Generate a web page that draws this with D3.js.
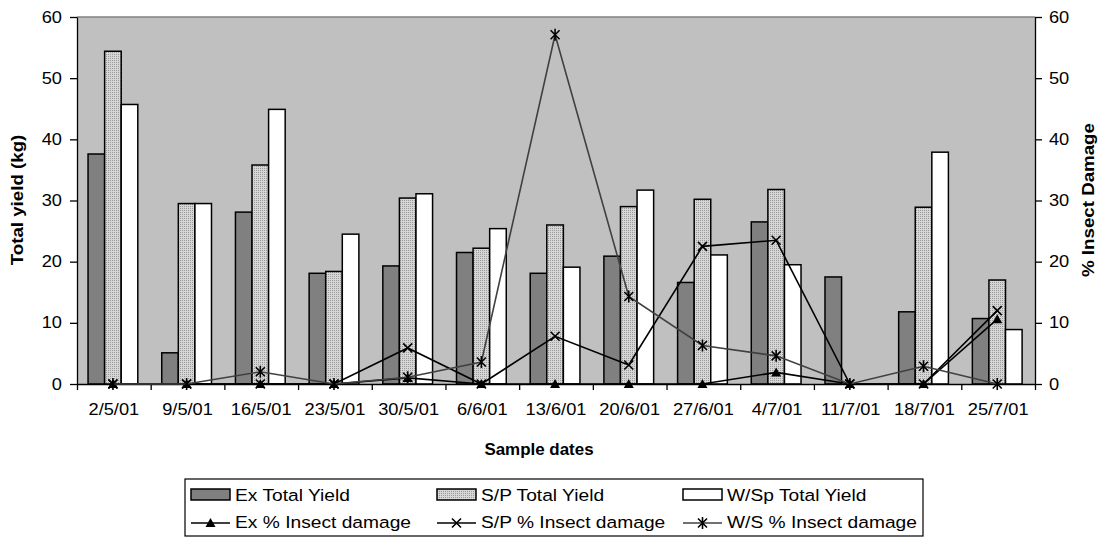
<!DOCTYPE html>
<html>
<head>
<meta charset="utf-8">
<script src="https://cdn.jsdelivr.net/npm/d3@7"></script>
<style>
body { margin: 0; background: #fff; }
text { font-family: "Liberation Sans", Arial, sans-serif; fill: #000; }
</style>
</head>
<body>
<svg width="1113" height="538"></svg>
<script>
// data
var dates = ['2/5/01', '9/5/01', '16/5/01', '23/5/01', '30/5/01', '6/6/01', '13/6/01',
             '20/6/01', '27/6/01', '4/7/01', '11/7/01', '18/7/01', '25/7/01'];
var exYield  = [37.6, 5.1, 28.1, 18.1, 19.3, 21.5, 18.1, 20.9, 16.6, 26.5, 17.5, 11.8, 10.7];
var spYield  = [54.4, 29.5, 35.8, 18.4, 30.4, 22.2, 26.0, 29.0, 30.2, 31.8, 0, 28.9, 17.0];
var wspYield = [45.7, 29.5, 44.9, 24.5, 31.1, 25.4, 19.1, 31.7, 21.1, 19.5, 0, 37.9, 8.9];
var exDamage = [0, 0, 0, 0, 1.0, 0, 0, 0, 0, 1.9, 0, 0, 10.6];
var spDamage = [0, 0, 0, 0, 5.9, 0, 7.8, 3.1, 22.5, 23.5, 0, 0, 12.0];
var wsDamage = [0, 0, 2.0, 0, 1.1, 3.6, 57.1, 14.3, 6.3, 4.6, 0, 2.9, 0];
var yTicks = [0, 10, 20, 30, 40, 50, 60];
var barNames = ['Ex Total Yield', 'S/P Total Yield', 'W/Sp Total Yield'];
var lineNames = ['Ex % Insect damage', 'S/P % Insect damage', 'W/S % Insect damage'];

var svg = d3.select('svg');
var plot = {l: 77, r: 1035, t: 17, b: 384};
var SX = 1.14; // text in the picture is wider than Arial

var barSeries = [
    {key: barNames[0], values: exYield, fill: '#808080'},
    {key: barNames[1], values: spYield, fill: 'url(#dots)'},
    {key: barNames[2], values: wspYield, fill: '#ffffff'}
];
var lineSeries = [
    {key: lineNames[0], values: exDamage, color: '#000', marker: 'triangle'},
    {key: lineNames[1], values: spDamage, color: '#000', marker: 'cross'},
    {key: lineNames[2], values: wsDamage, color: '#404040', marker: 'star'}
];

// dotted fill for S/P bars
var pat = svg.append('defs').append('pattern')
    .attr('id', 'dots').attr('patternUnits', 'userSpaceOnUse')
    .attr('width', 2).attr('height', 2);
pat.append('rect').attr('width', 2).attr('height', 2).attr('fill', '#d6d6d6');
pat.append('rect').attr('width', 1).attr('height', 1).attr('fill', '#9a9a9a');

var x0 = d3.scaleBand().domain(dates).range([plot.l, plot.r]);
var x1 = d3.scaleBand().domain(barNames)
    .range([x0.bandwidth() * 0.15, x0.bandwidth() * 0.825]);
var yL = d3.scaleLinear().domain([0, 60]).range([plot.b, plot.t]);
var yR = d3.scaleLinear().domain([0, 60]).range([plot.b, plot.t]);

// plot background
svg.append('rect')
    .attr('x', plot.l).attr('y', plot.t)
    .attr('width', plot.r - plot.l).attr('height', plot.b - plot.t)
    .attr('fill', '#c0c0c0');
svg.append('line')
    .attr('x1', plot.l).attr('x2', plot.r).attr('y1', plot.t).attr('y2', plot.t)
    .attr('stroke', '#808080').attr('stroke-width', 1.5);

// bars
var groups = svg.selectAll('.series')
    .data(barSeries)
    .enter().append('g')
    .attr('class', 'series');

groups.selectAll('rect')
    .data(function(s) {
        return s.values.map(function(v, i) { return {key: s.key, date: dates[i], value: v, fill: s.fill}; })
            .filter(function(d) { return d.value > 0; });
    })
    .enter().append('rect')
    .attr('x', function(d) { return x0(d.date) + x1(d.key); })
    .attr('y', function(d) { return yL(d.value); })
    .attr('width', x1.bandwidth())
    .attr('height', function(d) { return yL(0) - yL(d.value); })
    .attr('fill', function(d) { return d.fill; })
    .attr('stroke', '#000')
    .attr('stroke-width', 1.5);

// axes
var leftAxis = svg.append('g')
    .attr('transform', 'translate(' + plot.l + ',0)')
    .call(d3.axisLeft(yL).tickValues(yTicks).tickSize(7).tickSizeOuter(0));
leftAxis.selectAll('text').attr('x', -15 / SX);

var rightAxis = svg.append('g')
    .attr('transform', 'translate(' + plot.r + ',0)')
    .call(d3.axisRight(yR).tickValues(yTicks).tickSize(7).tickSizeOuter(0));
rightAxis.selectAll('text').attr('x', 14 / SX);

var bottomAxis = svg.append('g')
    .attr('transform', 'translate(0,' + plot.b + ')')
    .call(d3.axisBottom(x0).tickSize(0).tickPadding(20));
bottomAxis.select('.domain').remove();

// tick marks between the dates
var xEdge = d3.scaleLinear().domain([0, dates.length]).range([plot.l, plot.r]);
svg.append('g')
    .attr('transform', 'translate(0,' + plot.b + ')')
    .call(d3.axisBottom(xEdge).ticks(dates.length).tickFormat('').tickSize(6).tickSizeOuter(0));

svg.selectAll('.tick text')
    .style('font-size', '16px')
    .style('font-family', '"Liberation Sans", Arial, sans-serif')
    .attr('transform', 'scale(' + SX + ',1)');
svg.selectAll('.domain, .tick line').attr('stroke', '#000').attr('stroke-width', 1.3);

// insect damage lines
function markerPath(type) {
    if (type === 'triangle') return 'M0,-5L5,4L-5,4Z';
    if (type === 'cross') return 'M-4.5,-4.5L4.5,4.5M-4.5,4.5L4.5,-4.5';
    return 'M-4.5,-4.5L4.5,4.5M-4.5,4.5L4.5,-4.5M0,-6L0,6';
}

var xMid = function(i) { return x0(dates[i]) + x1(barNames[1]) + x1.bandwidth() / 2; };
var line = d3.line()
    .x(function(d, i) { return xMid(i); })
    .y(function(d) { return yR(d); });

var lg = svg.selectAll('.dmg')
    .data(lineSeries)
    .enter().append('g')
    .attr('class', 'dmg');

lg.append('path')
    .attr('d', function(s) { return line(s.values); })
    .attr('fill', 'none')
    .attr('stroke', function(s) { return s.color; })
    .attr('stroke-width', 1.6);

lg.selectAll('.mk')
    .data(function(s) { return s.values.map(function(v, i) { return {v: v, i: i, m: s.marker}; }); })
    .enter().append('path')
    .attr('class', 'mk')
    .attr('transform', function(d) { return 'translate(' + xMid(d.i) + ',' + yR(d.v) + ')'; })
    .attr('d', function(d) { return markerPath(d.m); })
    .attr('fill', '#000')
    .attr('stroke', '#000')
    .attr('stroke-width', function(d) { return d.m === 'triangle' ? 0 : 1.6; });

// axis titles
svg.append('text')
    .attr('transform', 'translate(23,200) rotate(-90) scale(1.17,1)')
    .attr('text-anchor', 'middle')
    .style('font-size', '16px').style('font-weight', 'bold')
    .text('Total yield (kg)');
svg.append('text')
    .attr('transform', 'translate(1094,200) rotate(-90) scale(1.17,1)')
    .attr('text-anchor', 'middle')
    .style('font-size', '16px').style('font-weight', 'bold')
    .text('% Insect Damage');
svg.append('text')
    .attr('transform', 'translate(539,455) scale(1.06,1)')
    .attr('text-anchor', 'middle')
    .style('font-size', '16px').style('font-weight', 'bold')
    .text('Sample dates');

// legend
var legend = svg.append('g').attr('transform', 'translate(185,479)');
legend.append('rect')
    .attr('width', 738).attr('height', 57)
    .attr('fill', '#fff').attr('stroke', '#000').attr('stroke-width', 1.2);

var colW = 246;
barSeries.forEach(function(s, i) {
    var g = legend.append('g').attr('transform', 'translate(' + (6 + i * colW) + ',10)');
    g.append('rect').attr('width', 39).attr('height', 11)
        .attr('fill', s.fill).attr('stroke', '#000').attr('stroke-width', 1.5);
    g.append('text').attr('transform', 'translate(44,11.5) scale(1.13,1)')
        .style('font-size', '17px').text(s.key);
});
lineSeries.forEach(function(s, i) {
    var g = legend.append('g').attr('transform', 'translate(' + (6 + i * colW) + ',44)');
    g.append('line').attr('x1', 0).attr('x2', 39)
        .attr('stroke', s.color).attr('stroke-width', 1.6);
    g.append('path').attr('transform', 'translate(19.5,0)')
        .attr('d', markerPath(s.marker))
        .attr('fill', '#000').attr('stroke', '#000')
        .attr('stroke-width', s.marker === 'triangle' ? 0 : 1.6);
    g.append('text').attr('transform', 'translate(44,4.5) scale(1.13,1)')
        .style('font-size', '17px').text(s.key);
});
</script>
</body>
</html>
